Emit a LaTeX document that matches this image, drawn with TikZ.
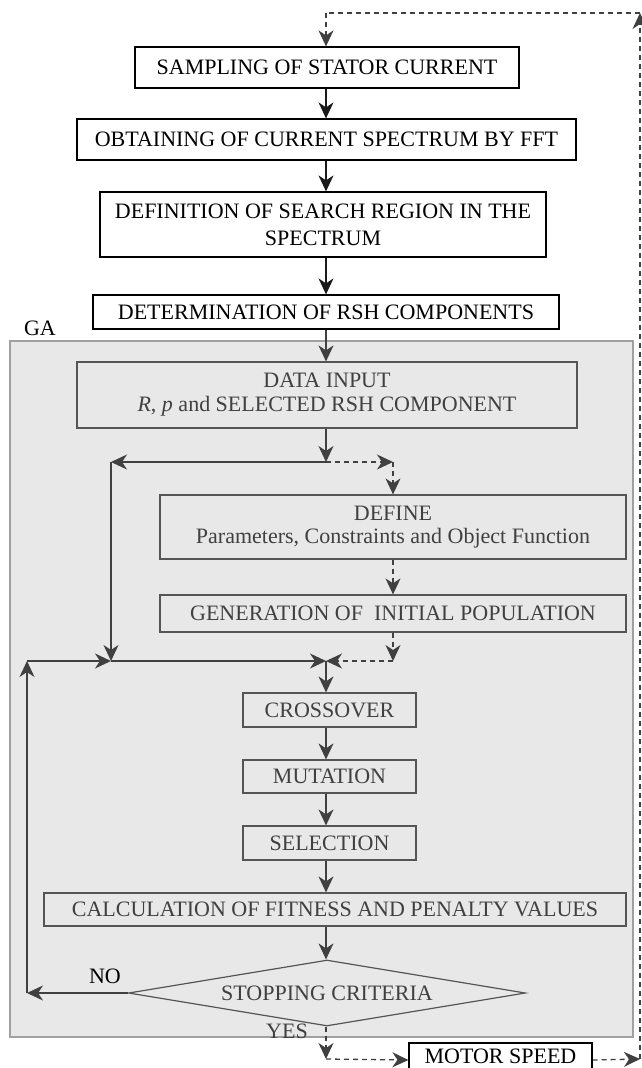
\documentclass[tikz,border=0pt]{standalone}
\usepackage{fontspec}
\setmainfont{Liberation Serif}
\usetikzlibrary{arrows.meta,shapes.geometric}
\definecolor{gabg}{HTML}{E8E8E8}
\definecolor{gaedge}{HTML}{A0A0A0}
\definecolor{inl}{HTML}{555555}
\definecolor{intext}{HTML}{404040}
\definecolor{outl}{HTML}{1A1A1A}
\begin{document}
\begin{tikzpicture}[x=1pt,y=-1pt,
  tip/.style={-{Stealth[length=16pt,width=15pt,inset=5pt]}},
  txt/.style={font=\fontsize{22}{26}\selectfont},
  outbox/.style={txt,draw=black,line width=1.2pt,fill=white,inner sep=0pt,text=black,align=center},
  inbox/.style={txt,draw=inl,line width=1.2pt,fill=gabg,inner sep=0pt,text=intext,align=center},
  outarrow/.style={tip,draw=outl,fill=outl,line width=1.3pt},
  inarrow/.style={tip,draw=intext,line width=1.3pt},
  indash/.style={draw=intext,line width=1.3pt,dash pattern=on 5pt off 4pt},
  outdash/.style={draw=intext,line width=1.3pt,dash pattern=on 5pt off 4pt},
  lbl/.style={txt,inner sep=0pt}
]
\useasboundingbox (0,0) rectangle (642,1068);
\fill[white] (0,0) rectangle (642,1068);

% GA region
\node[draw=gaedge,fill=gabg,line width=1.2pt,minimum width=623pt,minimum height=696pt,inner sep=0pt] (ga) at (321.5,689) {};
\node[txt,inner sep=0pt,text=black] (galbl) at (40,328) {GA};

% main column reference
\coordinate (colx) at (326,0);

% outer boxes
\node[outbox,minimum width=384pt,minimum height=41pt] (samp) at (327,67.5) {SAMPLING OF STATOR CURRENT};
\node[outbox,minimum width=499pt,minimum height=41pt] (obt) at (326.5,139.5) {OBTAINING OF CURRENT SPECTRUM BY FFT};
\node[outbox,minimum width=446pt,minimum height=65pt,font=\fontsize{22}{27}\selectfont] (defn) at (323,224.5) {DEFINITION OF SEARCH REGION IN THE\\SPECTRUM};
\node[outbox,minimum width=466pt,minimum height=34pt] (det) at (326,312) {DETERMINATION OF RSH COMPONENTS};

% inner boxes
\node[inbox,minimum width=500pt,minimum height=66pt,font=\fontsize{22}{24}\selectfont] (data) at (327,395) {DATA INPUT\\\textit{R}, \textit{p} and SELECTED RSH COMPONENT};
\node[inbox,minimum width=466pt,minimum height=64pt,font=\fontsize{22}{23.5}\selectfont] (def) at (393,527) {DEFINE\\Parameters, Constraints and Object Function};
\node[inbox,minimum width=466pt,minimum height=37pt] (gen) at (393,613.5) {GENERATION OF\ \ INITIAL POPULATION};
\node[inbox,minimum width=173pt,minimum height=34pt] (cross) at (329.5,710) {CROSSOVER};
\node[inbox,minimum width=173pt,minimum height=33pt] (mut) at (329.5,776.5) {MUTATION};
\node[inbox,minimum width=173pt,minimum height=34pt] (sel) at (329.5,843) {SELECTION};
\node[inbox,minimum width=582pt,minimum height=33pt] (calc) at (335,909.5) {CALCULATION OF FITNESS AND PENALTY VALUES};
\node[inbox,diamond,aspect=7,minimum width=397pt,minimum height=66pt] (stop) at (327,993) {STOPPING CRITERIA};
\node[outbox,minimum width=183pt,minimum height=34pt] (ms) at (500.5,1060) {};
\node[txt,inner sep=0pt,text=black] (mstxt) at (500.5,1056) {MOTOR SPEED};

\node[lbl,text=black] (no) at (105,976) {NO};
\node[lbl,text=intext] (yes) at (287,1031) {YES};

% coordinates
\coordinate (j1) at (326,462);
\coordinate (lt) at (111,462);
\coordinate (rt) at (393,462);
\coordinate (lb) at (111,661);
\coordinate (rb) at (393,661);
\coordinate (j2) at (326,661);
\coordinate (nt) at (27,661);
\coordinate (nl) at (27,993);
\coordinate (yb) at (326,1059);
\coordinate (br) at (640,1059);
\coordinate (tr) at (640,13);
\coordinate (tl) at (326,13);

% outer arrows
\draw[outarrow] (samp.south -| colx) -- (obt.north -| colx);
\draw[outarrow] (obt.south -| colx) -- (defn.north -| colx);
\draw[outarrow] (defn.south -| colx) -- (det.north -| colx);
\draw[inarrow] (det.south -| colx) -- (data.north -| colx);

% inner arrows
\draw[inarrow] (data.south -| colx) -- (j1);
\draw[inarrow] (j1) -- (lt);
\draw[inarrow] (lt) -- (lb);
\draw[indash,tip] (j1) -- (rt);
\draw[indash,tip] (rt) -- (def.north);
\draw[indash,tip] (def.south) -- (gen.north);
\draw[indash,tip] (gen.south) -- (rb);
\draw[indash,tip] (rb) -- (j2);
\draw[inarrow] (nl) -- (nt);
\draw[inarrow] (nt) -- (lb);
\draw[inarrow] (lb) -- (j2);
\draw[inarrow] (j2) -- (cross.north -| colx);
\draw[inarrow] (cross.south -| colx) -- (mut.north -| colx);
\draw[inarrow] (mut.south -| colx) -- (sel.north -| colx);
\draw[inarrow] (sel.south -| colx) -- (calc.north -| colx);
\draw[inarrow] (calc.south -| colx) -- (stop.north -| colx);
\draw[inarrow] (stop.west) -- (nl);

% output dashed loop
\draw[outdash,tip] (stop.south -| colx) -- (yb);
\draw[outdash,tip] (yb) -- (ms.west);
\draw[outdash,tip] (ms.east) -- (br);
\draw[outdash,tip] (br) -- (tr);
\draw[outdash] (tr) -- (tl);
\draw[outdash,tip] (tl) -- (samp.north -| colx);
\end{tikzpicture}
\end{document}
